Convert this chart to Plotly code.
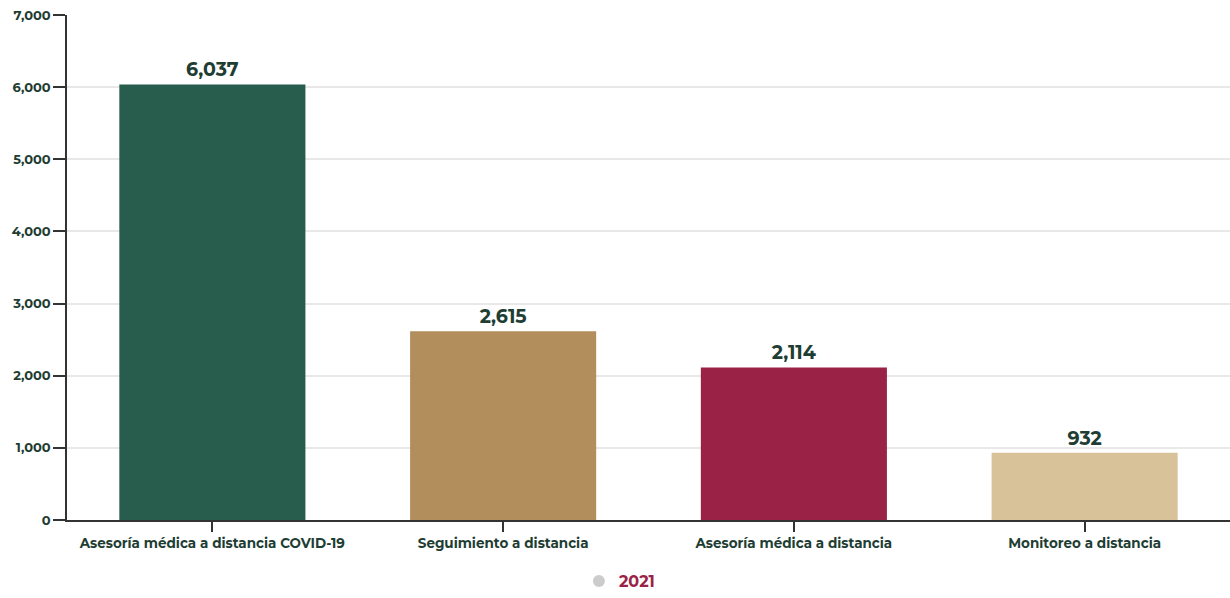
import plotly.graph_objects as go

categories = ["Asesoría médica a distancia COVID-19", "Seguimiento a distancia",
              "Asesoría médica a distancia", "Monitoreo a distancia"]
values = [6037, 2615, 2114, 932]
bar_colors = ["#285C4D", "#B38E5D", "#9B2247", "#D7C29A"]
series_name = "2021"
tick_vals = [0, 1000, 2000, 3000, 4000, 5000, 6000, 7000]

text_color = "#1E3D33"
font_family = "Montserrat, Lato, 'Open Sans', sans-serif"

fig = go.Figure()
fig.add_trace(go.Bar(
    x=categories, y=values,
    marker=dict(color=bar_colors, line=dict(width=0)),
    width=0.64,
    text=[f"{v:,}" for v in values],
    textposition="outside",
    textfont=dict(size=19, color=text_color, family=font_family, weight=700),
    cliponaxis=False,
    showlegend=False,
))
fig.add_trace(go.Scatter(
    x=[None], y=[None], mode="markers", name=series_name,
    marker=dict(color="#CCCCCC", size=16, symbol="circle"),
))

fig.update_layout(
    width=1230, height=598,
    margin=dict(l=67, r=0, t=15, b=78),
    plot_bgcolor="white", paper_bgcolor="white",
    font=dict(family=font_family, color=text_color),
    bargap=0.36,
    legend=dict(orientation="h", x=0.475, xanchor="center",
                yref="container", y=-0.01, yanchor="bottom",
                font=dict(size=16, color="#9B2247", weight=700),
                itemsizing="constant", tracegroupgap=0),
    xaxis=dict(
        automargin=False,
        showline=True, linecolor="#333333", linewidth=1.5,
        ticks="outside", ticklen=10, tickcolor="#333333", tickwidth=1.5,
        tickfont=dict(size=13.5, color=text_color, weight=700),
        showgrid=False,
    ),
    yaxis=dict(
        automargin=False,
        range=[0, 7000], tickvals=tick_vals, tickformat=",",
        showline=True, linecolor="#333333", linewidth=1.5,
        ticks="outside", ticklen=12, tickcolor="#333333", tickwidth=1.5,
        tickfont=dict(size=13, color=text_color, weight=700),
        showgrid=True, gridcolor="#E8E8E8", gridwidth=1.5,
        zeroline=False,
    ),
)

fig.write_html("out.html", config={"displayModeBar": False},
               post_script="document.body.style.margin='0';document.body.style.overflow='hidden';")
